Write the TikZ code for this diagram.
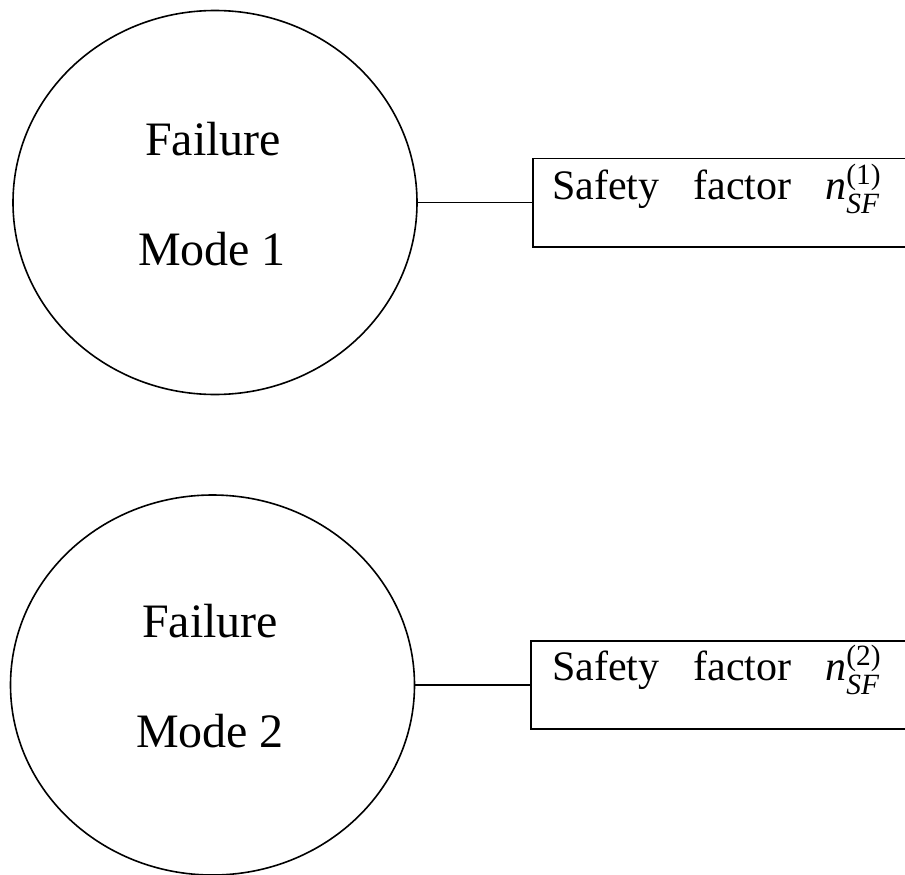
\documentclass[tikz,border=0pt]{standalone}
\usepackage{fontspec}
\usepackage{amsmath}
\setmainfont{Liberation Serif}
\usetikzlibrary{shapes.geometric}
\begin{document}
\begin{tikzpicture}[x=1pt,y=-1pt,
  mode/.style={draw, ellipse, minimum width=404pt, minimum height=384pt, inner sep=0pt, line width=1.6pt},
  boxnode/.style={minimum width=374pt, minimum height=88pt, inner sep=0pt, anchor=west},
  frame/.style={line width=1.6pt},
  lbl/.style={font=\fontsize{48}{58}\selectfont, anchor=base, inner sep=0pt},
  sflbl/.style={font=\fontsize{42}{50}\selectfont, anchor=base west, inner sep=0pt}]
\useasboundingbox (0,0) rectangle (905,875);
% mode 1
\node[mode] (c1) at (215,202.5) {};
\node[lbl] (f1) at (213,155) {Failure};
\node[lbl] (m1) at (212,265) {Mode 1};
\node[boxnode] (b1) at (533,202.5) {};
\draw[frame] (b1.north east) -- (b1.north west) -- (b1.south west) -- (b1.south east);
\node[sflbl] (s1) at (552,199) {Safety\hspace{34pt}factor\hspace{34pt}\textit{n}$^{\text{(1)}}_{\textit{SF}}$};
\draw[frame] (c1.east) -- (b1.west);
% mode 2
\node[mode, minimum height=380pt] (c2) at (212.5,685) {};
\node[lbl] (f2) at (210,637) {Failure};
\node[lbl] (m2) at (210,747) {Mode 2};
\node[boxnode] (b2) at (531,685) {};
\draw[frame] (b2.north east) -- (b2.north west) -- (b2.south west) -- (b2.south east);
\node[sflbl] (s2) at (552,680) {Safety\hspace{34pt}factor\hspace{34pt}\textit{n}$^{\text{(2)}}_{\textit{SF}}$};
\draw[frame] (c2.east) -- (b2.west);
\end{tikzpicture}
\end{document}
